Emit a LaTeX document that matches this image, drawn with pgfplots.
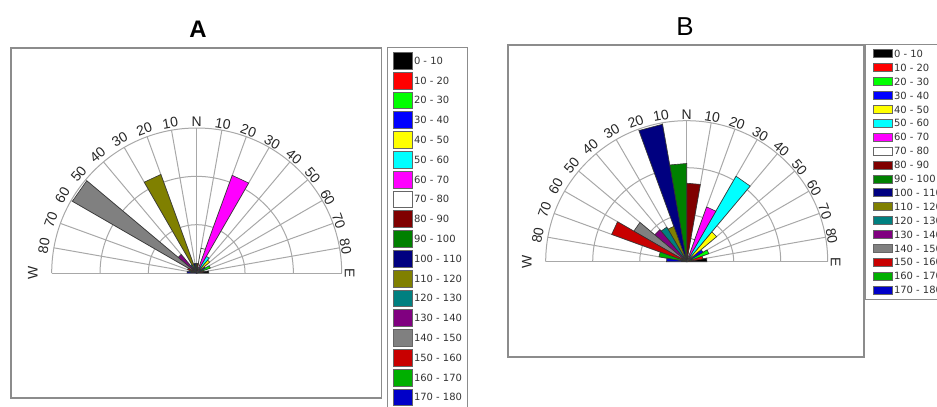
\documentclass[border=0pt]{standalone}
\usepackage{fontspec}
\setmainfont{Liberation Sans}
\newfontfamily\dejavu{DejaVu Sans}
\usepackage{pgfplots}
\pgfplotsset{compat=1.18}

\definecolor{c0}{RGB}{0,0,0}
\definecolor{c1}{RGB}{255,0,0}
\definecolor{c2}{RGB}{0,255,0}
\definecolor{c3}{RGB}{0,0,255}
\definecolor{c4}{RGB}{255,255,0}
\definecolor{c5}{RGB}{0,255,255}
\definecolor{c6}{RGB}{255,0,255}
\definecolor{c7}{RGB}{255,255,255}
\definecolor{c8}{RGB}{128,0,0}
\definecolor{c9}{RGB}{0,128,0}
\definecolor{c10}{RGB}{0,0,128}
\definecolor{c11}{RGB}{128,128,0}
\definecolor{c12}{RGB}{0,128,128}
\definecolor{c13}{RGB}{128,0,128}
\definecolor{c14}{RGB}{128,128,128}
\definecolor{c15}{RGB}{200,0,0}
\definecolor{c16}{RGB}{0,175,0}
\definecolor{c17}{RGB}{0,0,200}
\definecolor{gridc}{RGB}{168,168,168}
\definecolor{boxc}{RGB}{140,140,140}

\newcommand\axlab{\fontsize{14}{16}\selectfont}
\newcommand\legfont{\dejavu\fontsize{10}{12}\selectfont}

% petal: colour, start angle, end angle, length (in ring units, outer ring = 3)
\newcommand\petal[4]{\addplot[data cs=polar, fill=#1, draw=black!80, line width=0.6bp] coordinates {(#2,0) (#2,#4) (#3,#4) (#3,0)};}

% half-rose grid and direction labels around centre (#1,#2), radius #3
\newcommand\rosegrid[3]{%
  \begin{scope}[shift={(#1,#2)}]
    \foreach \a in {0,10,...,180} \draw[gridc, line width=1bp] (0,0) -- (\a:#3);
    \foreach \k in {1,2,3} \draw[gridc, line width=1bp] (\k*#3/3,0) arc[start angle=0, end angle=180, radius=\k*#3/3];
    \draw[gridc, line width=1bp] (-#3,0) -- (#3,0);
    \foreach \a/\t/\d in {0/E/3, 10/80/1, 20/70/1, 30/60/1, 40/50/1, 50/40/1, 60/30/1, 70/20/1, 80/10/1, 90/N/1.5, 100/10/2, 110/20/3, 120/30/4, 130/40/4, 140/50/4, 150/60/5, 160/70/5, 170/80/5, 180/W/14}
      \node[rotate=\a-90, anchor=south, inner sep=0pt, font=\axlab, text=black!85] at (\a:#3+\d) {\t};
  \end{scope}}

\pgfplotsset{
  rose/.style={
    scale only axis, hide axis,
    xmin=-3, xmax=3, ymin=0, ymax=3,
    clip=false,
    legend cell align=left,
    legend entries={0 - 10, 10 - 20, 20 - 30, 30 - 40, 40 - 50, 50 - 60, 60 - 70, 70 - 80, 80 - 90, 90 - 100, 100 - 110, 110 - 120, 120 - 130, 130 - 140, 140 - 150, 150 - 160, 160 - 170, 170 - 180},
  },
}

\begin{document}
\begin{tikzpicture}[x=1bp,y=1bp]
\useasboundingbox (0,0) rectangle (937,406);
\clip (0,0) rectangle (937,406);

% panel frames
\draw[boxc, line width=1.2bp] (11,8) rectangle (381.7,358);
\draw[boxc, line width=1.2bp] (508,49) rectangle (864,361);

% titles
\node[font=\bfseries\fontsize{24}{28}\selectfont] at (198,377) {A};
\node[font=\fontsize{26}{30}\selectfont] at (685,379) {B};

\rosegrid{196.7}{133}{145}
\rosegrid{686.7}{144.3}{141}

% ---------------- Panel A ----------------
\begin{axis}[rose,
  at={(196.7bp,133bp)}, anchor=south,
  width=290bp, height=145bp,
  legend image code/.code={\draw[#1, draw=black!60, line width=0.5bp] (0bp,-8.35bp) rectangle (19bp,8.35bp);},
  legend style={at={(1.1562,1.5586)}, anchor=north west, draw=boxc, line width=1bp,
    inner xsep=5.5bp, inner ysep=4.5bp, font=\legfont, text=black!80,
    nodes={inner sep=0pt, text depth=0pt}, row sep=2.6bp, column sep=1.5bp},
]
\petal{c0}{0}{10}{0.25}
\petal{c1}{10}{20}{0.15}
\petal{c2}{20}{30}{0.3}
\petal{c3}{30}{40}{0.2}
\petal{c4}{40}{50}{0.35}
\petal{c5}{50}{60}{0.4}
\petal{c6}{60}{70}{2.15}
\petal{c7}{70}{80}{0.52}
\petal{c8}{80}{90}{0.2}
\petal{c9}{90}{100}{0.2}
\petal{c10}{100}{110}{0.2}
\petal{c11}{110}{120}{2.17}
\petal{c12}{120}{130}{0.2}
\petal{c13}{130}{140}{0.5}
\petal{c14}{140}{150}{2.97}
\petal{c15}{150}{160}{0.2}
\petal{c16}{160}{170}{0.15}
\petal{c17}{170}{180}{0.2}
\end{axis}

% ---------------- Panel B ----------------
\begin{axis}[rose,
  at={(686.7bp,144.3bp)}, anchor=south,
  width=282bp, height=141bp,
  legend image code/.code={\draw[#1, draw=black!60, line width=0.5bp] (0bp,-4bp) rectangle (19bp,4bp);},
  legend style={at={(1.1323,1.544)}, anchor=north west, draw=boxc, line width=1bp,
    inner xsep=7.5bp, inner ysep=5bp, font=\legfont, text=black!80,
    nodes={inner sep=0pt, text depth=0pt}, row sep=5.4bp, column sep=1.5bp},
]
\petal{c0}{0}{10}{0.43}
\petal{c1}{10}{20}{0.35}
\petal{c2}{20}{30}{0.5}
\petal{c3}{30}{40}{0.4}
\petal{c4}{40}{50}{0.83}
\petal{c5}{50}{60}{2.10}
\petal{c6}{60}{70}{1.24}
\petal{c7}{70}{80}{0.5}
\petal{c8}{80}{90}{1.67}
\petal{c9}{90}{100}{2.09}
\petal{c10}{100}{110}{2.97}
\petal{c11}{110}{120}{0.8}
\petal{c12}{120}{130}{0.85}
\petal{c13}{130}{140}{0.89}
\petal{c14}{140}{150}{1.30}
\petal{c15}{150}{160}{1.70}
\petal{c16}{160}{170}{0.6}
\petal{c17}{170}{180}{0.43}
\end{axis}
\end{tikzpicture}
\end{document}
